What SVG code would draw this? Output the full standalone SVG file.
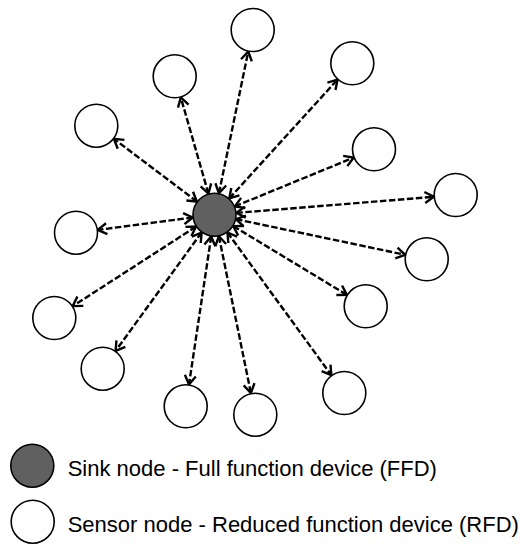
<svg xmlns="http://www.w3.org/2000/svg" width="532" height="544" viewBox="0 0 532 544">
  <style>
    .sensor { fill: #ffffff; stroke: #000000; stroke-width: 1.6; }
    .sink { fill: #606060; stroke: #000000; stroke-width: 1.6; }
    .link { stroke: #000000; stroke-width: 2.4; stroke-dasharray: 6.5 2.5; fill: none; marker-start: url(#chev); marker-end: url(#chev); }
    .label { font-family: "Liberation Sans", Arial, sans-serif; font-size: 22px; fill: #000000; }
  </style>
  <defs>
    <marker id="chev" markerUnits="userSpaceOnUse" markerWidth="16" markerHeight="16" viewBox="-12 -8 14 16" refX="0" refY="0" orient="auto-start-reverse">
      <path d="M -9 -5.5 L 0 0 L -9 5.5" fill="none" stroke="#000000" stroke-width="2.4" stroke-linejoin="miter"/>
    </marker>
  </defs>
  <rect width="532" height="544" fill="#ffffff"/>

  <!-- bidirectional links between the sink and each sensor -->
  <g id="links">
    <line class="link" x1="218.95" y1="193.2" x2="248.25" y2="51.5"/>
    <line class="link" x1="208.4" y1="193.56" x2="180.8" y2="97.4"/>
    <line class="link" x1="229.3" y1="198.4" x2="337.5" y2="79.6"/>
    <line class="link" x1="196.9" y1="201.5" x2="113.9" y2="138.9"/>
    <line class="link" x1="234.9" y1="206.35" x2="353.6" y2="157.6"/>
    <line class="link" x1="236.4" y1="212.9" x2="433.8" y2="196.8"/>
    <line class="link" x1="192.7" y1="217.5" x2="97.8" y2="229.9"/>
    <line class="link" x1="236.0" y1="219.2" x2="405.2" y2="254.8"/>
    <line class="link" x1="196.0" y1="226.6" x2="72.8" y2="306.1"/>
    <line class="link" x1="233.3" y1="226.1" x2="346.9" y2="294.9"/>
    <line class="link" x1="201.6" y1="232.5" x2="115.6" y2="350.9"/>
    <line class="link" x1="227.45" y1="232.5" x2="331.35" y2="375.2"/>
    <line class="link" x1="211.2" y1="236.5" x2="189.0" y2="384.5"/>
    <line class="link" x1="218.9" y1="236.3" x2="250.9" y2="393.1"/>
  </g>

  <g id="sink"><circle class="sink" cx="214.5" cy="214.7" r="21.5"/></g>

  <g id="sensor-1"><circle class="sensor" cx="252.7" cy="30" r="21.5"/></g>
  <g id="sensor-2"><circle class="sensor" cx="174.7" cy="76.3" r="21.5"/></g>
  <g id="sensor-3"><circle class="sensor" cx="352.3" cy="63.3" r="21.5"/></g>
  <g id="sensor-4"><circle class="sensor" cx="96.3" cy="125.7" r="21.5"/></g>
  <g id="sensor-5"><circle class="sensor" cx="374" cy="149.3" r="21.5"/></g>
  <g id="sensor-6"><circle class="sensor" cx="455.7" cy="195" r="21.5"/></g>
  <g id="sensor-7"><circle class="sensor" cx="76" cy="232.7" r="21.5"/></g>
  <g id="sensor-8"><circle class="sensor" cx="426.7" cy="259.3" r="21.5"/></g>
  <g id="sensor-9"><circle class="sensor" cx="54.3" cy="318" r="21.5"/></g>
  <g id="sensor-10"><circle class="sensor" cx="365.7" cy="306.3" r="21.5"/></g>
  <g id="sensor-11"><circle class="sensor" cx="102.7" cy="368.7" r="21.5"/></g>
  <g id="sensor-12"><circle class="sensor" cx="344.3" cy="393" r="21.5"/></g>
  <g id="sensor-13"><circle class="sensor" cx="185.7" cy="406.3" r="21.5"/></g>
  <g id="sensor-14"><circle class="sensor" cx="255.3" cy="414.7" r="21.5"/></g>

  <!-- legend -->
  <g id="legend-sink">
    <circle class="sink" cx="32.3" cy="465.7" r="21.5"/>
    <text class="label" x="67.7" y="476">Sink node - Full function device (FFD)</text>
  </g>
  <g id="legend-sensor">
    <circle class="sensor" cx="32.7" cy="521.7" r="21.5"/>
    <text class="label" x="67.7" y="532.3">Sensor node - Reduced function device (RFD)</text>
  </g>
</svg>
